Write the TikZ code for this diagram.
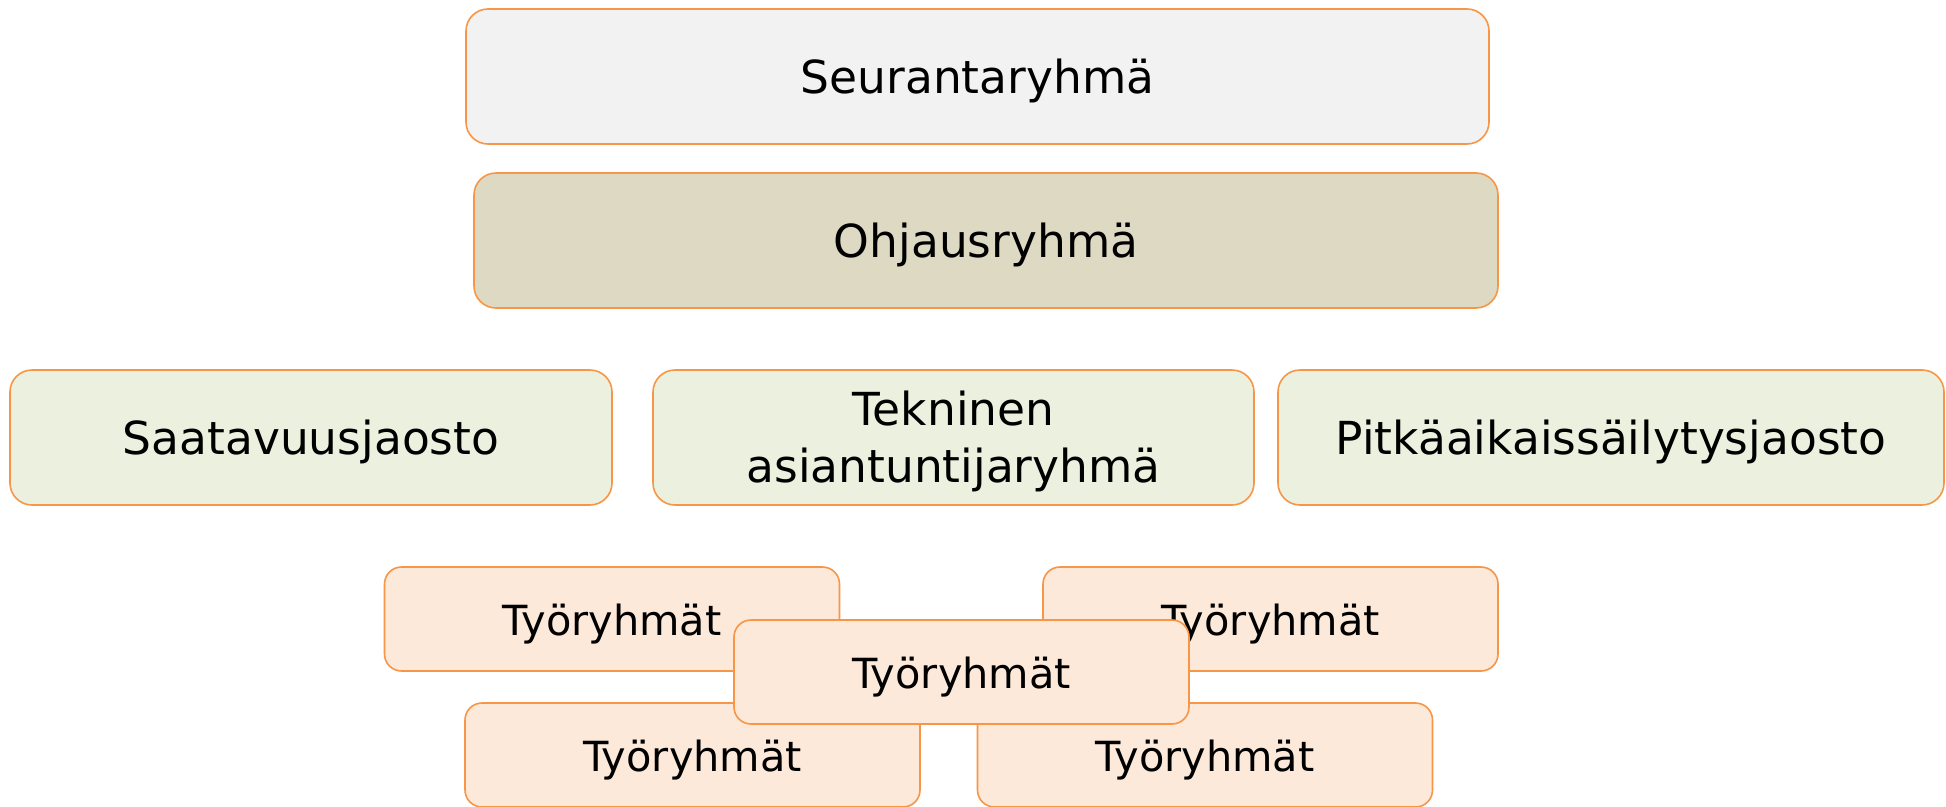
\documentclass[tikz,border=0pt]{standalone}
\usepackage{fontspec}
\setmainfont{DejaVu Sans}
\definecolor{edgeor}{HTML}{F79646}
\definecolor{fillgray}{HTML}{F2F2F2}
\definecolor{filltan}{HTML}{DDD9C3}
\definecolor{fillgreen}{HTML}{EBF1DE}
\definecolor{fillpeach}{HTML}{FDE9D9}
\newcommand\lowtxt[2]{\raisebox{-#1}[\height][\depth]{#2}}
\tikzset{
  boxbase/.style={draw=edgeor, line width=1.6pt, inner sep=0pt, rounded corners=22pt,
    align=center, text=black, font=\fontsize{45.5}{57}\selectfont},
  topbox/.style={boxbase, minimum width=1023pt, minimum height=135pt},
  midbox/.style={boxbase, fill=fillgreen, minimum height=135pt},
  workbox/.style={boxbase, fill=fillpeach, rounded corners=17pt, minimum width=455pt,
    minimum height=104pt, font=\fontsize{41.5}{50}\selectfont},
}
\begin{document}
\begin{tikzpicture}[x=1pt, y=-1pt]
\fill[white] (0,0) rectangle (1946,806);
\useasboundingbox (0,0) rectangle (1946,806);
\clip (0,0) rectangle (1946,806);
\node[topbox, fill=fillgray] (seuranta) at (977.5,76.5) {\lowtxt{4.5pt}{Seurantaryhmä}};
\node[topbox, fill=filltan, minimum width=1024pt] (ohjaus) at (986,240.5) {\lowtxt{4.5pt}{Ohjausryhmä}};
\node[midbox, minimum width=602pt] (saatavuus) at (311,437.5) {\lowtxt{4.5pt}{Saatavuusjaosto}};
\node[midbox, minimum width=601pt] (tekninen) at (953.5,437.5)
  {\lowtxt{5pt}{\begin{tabular}{@{}c@{}}Tekninen\\asiantuntijaryhmä\end{tabular}}};
\node[midbox, minimum width=666pt] (pitka) at (1611,437.5) {\lowtxt{4.5pt}{Pitkäaikaissäilytysjaosto}};
\node[workbox] (tr1) at (612,619) {\lowtxt{5pt}{Työryhmät}};
\node[workbox] (tr2) at (1270.5,619) {\lowtxt{5pt}{Työryhmät}};
\node[workbox] (tr4) at (692.5,755) {\lowtxt{5pt}{Työryhmät}};
\node[workbox] (tr5) at (1205,755) {\lowtxt{5pt}{Työryhmät}};
\node[workbox] (tr3) at (961.5,672) {\lowtxt{5pt}{Työryhmät}};
\end{tikzpicture}
\end{document}
